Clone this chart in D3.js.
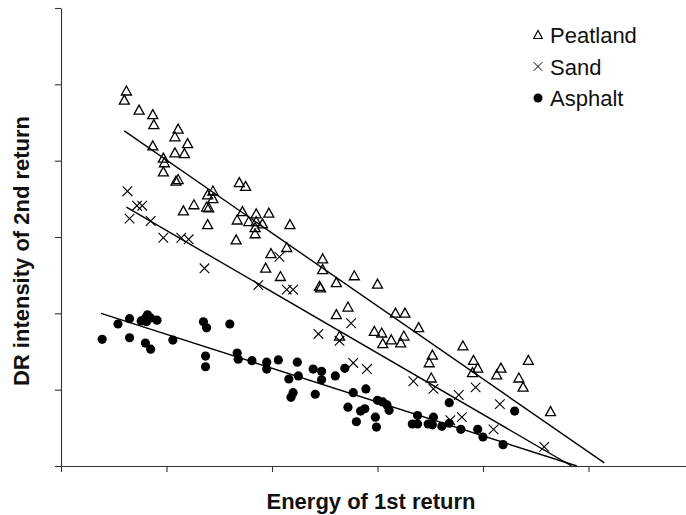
<!DOCTYPE html>
<html>
<head>
<meta charset="utf-8">
<script src="https://cdn.jsdelivr.net/npm/d3@7"></script>
<style>
  body { margin: 0; background: #fff; }
  svg { display: block; font-family: "Liberation Sans", Arial, sans-serif; }
</style>
</head>
<body>
<div id="chart"></div>
<script>
// values, arbitrary units (one tick = 100)
const peatland = [
  [62, 491], [60, 479], [74, 466], [87, 460], [88, 447], [111, 441], [108, 431],
  [120, 422], [87, 419], [108, 410], [117, 409], [97, 403], [98, 397], [97, 385],
  [109, 373], [111, 375], [169, 371], [175, 366], [144, 360], [139, 355], [144, 350],
  [126, 342], [138, 339], [140, 338], [116, 334], [172, 333], [167, 322], [178, 320],
  [139, 316], [166, 296], [185, 330], [185, 320], [184, 312], [184, 304], [191, 317],
  [197, 331], [217, 316], [214, 286], [199, 278], [248, 271], [248, 257], [194, 259],
  [208, 248], [278, 249], [261, 240], [245, 235], [246, 233], [300, 238], [272, 208],
  [261, 198], [264, 170], [317, 200], [326, 200], [339, 181], [297, 176], [304, 174],
  [313, 165], [305, 160], [325, 170], [322, 161], [381, 157], [352, 145], [349, 135],
  [391, 138], [395, 128], [390, 122], [417, 128], [413, 119], [443, 138], [434, 115],
  [438, 103], [351, 115], [464, 71]
];
const sand = [
  [63, 360], [72, 341], [77, 341], [65, 324], [85, 321], [97, 299], [114, 299],
  [121, 297], [136, 259], [207, 274], [187, 237], [214, 231], [220, 231], [275, 187],
  [244, 173], [264, 164], [277, 135], [290, 127], [334, 111], [353, 101], [377, 93],
  [393, 103], [416, 81], [369, 60], [380, 64], [410, 48], [458, 25]
];
const asphalt = [
  [39, 166], [54, 186], [65, 193], [65, 168], [76, 190], [80, 194], [82, 198],
  [81, 189], [85, 194], [91, 191], [80, 161], [85, 153], [106, 165], [135, 189],
  [138, 181], [160, 186], [137, 144], [137, 130], [167, 148], [168, 140], [181, 138],
  [195, 136], [195, 127], [206, 139], [224, 136], [216, 114], [225, 118], [220, 96],
  [218, 90], [239, 127], [247, 124], [247, 113], [241, 94], [260, 118], [269, 128],
  [277, 96], [289, 101], [272, 77], [284, 72], [288, 75], [280, 58], [298, 64],
  [299, 51], [300, 86], [305, 84], [309, 80], [311, 73], [333, 55], [338, 66],
  [338, 55], [348, 55], [353, 64], [352, 54], [361, 52], [368, 56], [368, 83],
  [379, 48], [395, 48], [400, 38], [419, 28], [430, 72]
];
// fitted lines: [x0, y0, x1, y1]
const peatlandFit = [60, 439, 515, 4];
const sandFit = [62, 339, 484, 0];
const asphaltFit = [38, 200, 489, 0];
const tickValues = [0, 100, 200, 300, 400, 500, 600];
const legendLabels = ["Peatland", "Sand", "Asphalt"];

const width = 686, height = 515;
const svg = d3.select("#chart").append("svg")
  .attr("width", width)
  .attr("height", height);

const x = d3.scaleLinear().domain([0, 600]).range([61, 694]);
const y = d3.scaleLinear().domain([0, 600]).range([466, 8]);

const axisColor = "#333";

svg.append("g")
  .attr("transform", `translate(0,${y(0)})`)
  .call(d3.axisBottom(x).tickValues(tickValues).tickFormat("").tickSize(6).tickSizeOuter(0))
  .call(g => g.selectAll("path, line").attr("stroke", axisColor).attr("stroke-width", 1.1));

svg.append("g")
  .attr("transform", `translate(${x(0)},0)`)
  .call(d3.axisLeft(y).tickValues(tickValues).tickFormat("").tickSize(6).tickSizeOuter(0))
  .call(g => g.selectAll("path, line").attr("stroke", axisColor).attr("stroke-width", 1.1));

// markers
const triPath = "M0,-5.2L5,3.8L-5,3.8Z";
const crossPath = "M-4.8,-4.8L4.8,4.8M-4.8,4.8L4.8,-4.8";

const fits = [peatlandFit, sandFit, asphaltFit];
svg.append("g").selectAll("line")
  .data(fits)
  .join("line")
  .attr("x1", d => x(d[0]))
  .attr("y1", d => y(d[1]))
  .attr("x2", d => x(d[2]))
  .attr("y2", d => y(d[3]))
  .attr("stroke", "#000")
  .attr("stroke-width", 1.4);

svg.append("g").selectAll("path")
  .data(peatland)
  .join("path")
  .attr("d", triPath)
  .attr("transform", d => `translate(${x(d[0])},${y(d[1])})`)
  .attr("fill", "none")
  .attr("stroke", "#000")
  .attr("stroke-width", 1.3);

svg.append("g").selectAll("path")
  .data(sand)
  .join("path")
  .attr("d", crossPath)
  .attr("transform", d => `translate(${x(d[0])},${y(d[1])})`)
  .attr("fill", "none")
  .attr("stroke", "#000")
  .attr("stroke-width", 1.1);

svg.append("g").selectAll("circle")
  .data(asphalt)
  .join("circle")
  .attr("cx", d => x(d[0]))
  .attr("cy", d => y(d[1]))
  .attr("r", 4.6)
  .attr("fill", "#000");

// legend
const legend = svg.append("g").attr("transform", "translate(538,35)");
const items = legend.selectAll("g")
  .data(legendLabels)
  .join("g")
  .attr("transform", (d, i) => `translate(0,${i * 31.5})`);

items.filter((d, i) => i === 0).append("path")
  .attr("d", "M0,-4.5L4.3,3.5L-4.3,3.5Z")
  .attr("fill", "none").attr("stroke", "#000").attr("stroke-width", 1.1);
items.filter((d, i) => i === 1).append("path")
  .attr("d", "M-4.3,-4.3L4.3,4.3M-4.3,4.3L4.3,-4.3")
  .attr("fill", "none").attr("stroke", "#000").attr("stroke-width", 1);
items.filter((d, i) => i === 2).append("circle")
  .attr("r", 4.5).attr("fill", "#000");

items.append("text")
  .attr("x", 12)
  .attr("y", 8)
  .style("font-size", "22px")
  .attr("fill", "#111")
  .text(d => d);

// axis titles
svg.append("text")
  .attr("x", 371)
  .attr("y", 509)
  .attr("text-anchor", "middle")
  .style("font-size", "22px")
  .style("font-weight", "bold")
  .attr("fill", "#111")
  .text("Energy of 1st return");

svg.append("text")
  .attr("transform", "translate(29,251) rotate(-90)")
  .attr("text-anchor", "middle")
  .style("font-size", "22px")
  .style("font-weight", "bold")
  .attr("fill", "#111")
  .text("DR intensity of 2nd return");
</script>
</body>
</html>
